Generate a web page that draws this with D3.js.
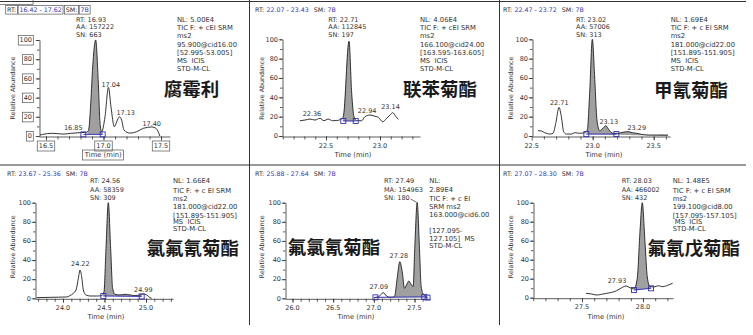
<!DOCTYPE html>
<html><head><meta charset="utf-8">
<script src="https://cdn.jsdelivr.net/npm/d3@7"></script>
<style>
body{margin:0;background:#fff;}
svg{display:block;}
text{font-family:"DejaVu Sans","Liberation Sans",sans-serif;fill:#333;white-space:pre;}
</style></head><body>
<svg id="c" width="753" height="335"></svg>
<script>
// ---------------- data ----------------
const compounds = ["腐霉利","联苯菊酯","甲氰菊酯","氯氟氰菊酯","氟氯氰菊酯","氟氰戊菊酯"];
const rtRanges = ["16.42 - 17.62","22.07 - 23.43","22.47 - 23.72","23.67 - 25.36","25.88 - 27.64","27.07 - 28.30"];
const smoothing = ["7B","7B","7B","7B","7B","7B"];
const peakRT = ["16.93","22.71","23.02","24.56","27.49","28.03"];
const areaType = ["AA","AA","AA","AA","MA","AA"];
const areaValue = ["157222","112845","57006","58359","154963","466002"];
const snValue = ["663","197","313","309","180","432"];
const filterText = [
  ["NL: 5.00E4","TIC F: + cEI SRM","ms2","95.900@cid16.00","[52.995-53.005]","MS  ICIS","STD-M-CL"],
  ["NL: 4.06E4","TIC F: + cEI SRM","ms2","166.100@cid24.00","[163.595-163.605]","MS  ICIS","STD-M-CL"],
  ["NL: 1.69E4","TIC F: + c EI SRM","ms2","181.000@cid22.00","[151.895-151.905]","MS  ICIS","STD-M-CL"],
  ["NL: 1.66E4","TIC F: + c EI SRM","ms2","181.000@cid22.00","[151.895-151.905]","MS  ICIS","STD-M-CL"],
  ["NL:","2.89E4","TIC F: + c EI","SRM ms2","163.000@cid6.00","","[127.095-","127.105]  MS","STD-M-CL"],
  ["NL: 1.48E5","TIC F: + c EI SRM","ms2","199.100@cid8.00","[157.095-157.105]"," MS  ICIS","STD-M-CL"]
];
const yTickValues = [0,20,40,60,80,100];
const xTickValues = [[16.5,17.0,17.5],[22.5,23.0],[22.5,23.0,23.5],[24.0,24.5,25.0],[26.0,26.5,27.0,27.5],[27.5,28.0]];

const p1Time = [16.448,16.47,16.56,16.65,16.72,16.80,16.85,16.87,16.89,16.906,16.932,16.955,16.97,16.984,17.013,17.043,17.065,17.094,17.115,17.138,17.158,17.178,17.23,17.289,17.346,17.419,17.46,17.49];
const p1Abund = [1,1.7,2.8,2,2.8,3.5,3.8,6,36,72,100,55,13,4.5,20,50.7,30.5,9.7,14.9,20,16.5,6.2,3,4.5,8,9.4,7.6,0];
const p2Time = [22.259,22.306,22.352,22.398,22.444,22.481,22.52,22.56,22.6,22.636,22.66,22.713,22.738,22.759,22.784,22.83,22.861,22.907,22.944,22.985,23.025,23.062,23.093,23.117,23.148,23.17];
const p2Abund = [15.8,16.5,17.5,16.5,18.3,15.8,17.5,15.8,16,17.2,20,98,44,20,15.8,15.8,20,21.7,20.7,19.3,14.8,18.3,21.7,24.1,20,17.2];
const p3Time = [22.552,22.58,22.607,22.648,22.675,22.697,22.724,22.743,22.762,22.784,22.825,22.852,22.893,22.934,22.956,22.975,22.997,23.016,23.035,23.057,23.084,23.107,23.134,23.166,23.207,23.248,23.289,23.325,23.358,23.399,23.456,23.522,23.617];
const p3Abund = [5.5,5.2,3.4,2,2.8,13,29.6,20,4.5,2,2,3.4,2.8,3.4,6.2,44,100,61,16.5,5.5,8,10.7,6.2,2.8,2.8,3.8,4.5,3.4,2.8,1.7,1,1,1];
const p4Time = [23.683,23.843,24.045,24.084,24.124,24.157,24.185,24.205,24.225,24.245,24.277,24.325,24.406,24.466,24.494,24.518,24.546,24.574,24.598,24.627,24.687,24.747,24.807,24.867,24.928,24.967,25.008,25.048,25.068];
const p4Abund = [0.7,1,1.4,2.8,5.2,8.7,20.9,29.6,22.6,8.7,3.5,2.4,2.4,2.8,6.9,52,100,52,10.5,4.2,3.5,4.2,3.5,2.8,3.5,4.5,3.5,0.7,0];
const p5Time = [27.0,27.061,27.115,27.156,27.205,27.254,27.287,27.319,27.349,27.377,27.402,27.43,27.459,27.483,27.503,27.533,27.561,27.582,27.614,27.656];
const p5Abund = [0.7,1.7,5.9,2.4,1,1.7,20.9,38.3,27.8,10.5,13.9,18.1,14.6,12.2,52,100,52,12.2,3.5,1];
const p6Time = [27.533,27.579,27.62,27.661,27.702,27.743,27.784,27.825,27.861,27.893,27.926,27.953,27.975,27.994,28.016,28.035,28.057,28.09,28.125,28.161,28.194,28.221,28.243];
const p6Abund = [4.6,3.9,2.8,3.6,4.6,5.6,7.4,10.5,12.3,10.5,9.2,20.4,69,100,59,22,11.6,11.3,12.6,11.6,12.6,14.1,15.2];

// peak labels: text, time, abundance (label baseline)
const peakLabelText = [["16.85","17.04","17.13","17.40"],["22.36","22.94","23.14"],["22.71","23.13","23.29"],["24.22","24.99"],["27.28","27.09"],["27.93"]];
const peakLabelTime = [[16.737,17.063,17.193,17.419],[22.37,22.881,23.097],[22.726,23.132,23.361],[24.209,24.968],[27.308,27.06],[27.787]];
const peakLabelAbund = [[6.2,51.4,21.9,10.4],[20.7,24.1,27.6],[32,12.1,6.2],[34.1,6.9],[41.8,9.7],[15.2]];

// integration markers (time, abundance) and shaded range
const markTime = [[16.825,16.993],[22.66,22.775],[22.948,23.194],[24.486,24.948],[27.02,27.62,27.66],[27.926,28.066]];
const markAbund = [[1.7,1.7],[15.5,15.5],[2,2],[2.4,2],[1,1.5,0.7],[8.1,9.9]];
const fillTime = [[16.86,16.993],[22.655,22.775],[22.95,23.62],[24.486,24.95],[27.25,27.61],[27.93,28.066]];
const fillBase = [[1.7,1.7],[15.5,15.5],[2,0],[2.4,2],[1,1],[8.1,9.9]];

const traceTime = [p1Time,p2Time,p3Time,p4Time,p5Time,p6Time];
const traceAbund = [p1Abund,p2Abund,p3Abund,p4Abund,p5Abund,p6Abund];

// ---------------- layout ----------------
const layouts = [
 {axisX:39, xEnd:170, y0:136, y100:40, cal:[16.5,46,17.5,161], boxed:true, hx:7, hy:12.3, annX:76, annY:[21.5,29,36.5],
  rX:177, rY:[21.7,30,38,46.5,54.7,62.8,71], cn:[191.5,88], time:[103.3,157], rel:[12,88], tickY:148},
 {axisX:282, xEnd:420, y0:136, y100:39.3, cal:[22.5,326,23.0,380], hx:255, hy:12.3, annX:328.3, annY:[21.5,29,36.5],
  rX:420, rY:[21.7,30,38,46.5,54.7,62.8,71], cn:[440,88.3], time:[353,157], rel:[261.7,88.3], tickY:147.5},
 {axisX:532, xEnd:670, y0:136, y100:39.3, cal:[22.5,531.7,23.5,653.7], hx:503, hy:12.3, annX:576, annY:[21.5,29,36.5],
  rX:670.7, rY:[21.7,30,38,46.5,54.7,62.8,71], cn:[691,88.5], time:[604,157], rel:[510,88], tickY:147.5},
 {axisX:35, xEnd:173, y0:298.3, y100:202.7, cal:[24.0,63,25.0,146], hx:7, hy:176, annX:90, annY:[183.3,191.7,200],
  rX:173, rY:[183.3,193.3,200.7,209,217.7,224.3,231.3], cn:[192.7,246.5], time:[106,319], rel:[12,246.7], tickY:310},
 {axisX:285, xEnd:430, y0:298.3, y100:202.7, cal:[26.0,292.5,27.5,414.5], hx:255, hy:176, annX:384, annY:[183.3,191.7,200],
  rX:429.3, rY:[183.3,191.7,200.7,209,216.7,225,233.3,241,248.3], cn:[334,245.5], time:[356,319], rel:[261.7,246.7], tickY:309.5, leader:true},
 {axisX:533, xEnd:673, y0:297.7, y100:202.7, cal:[27.5,582,28.0,643], hx:503, hy:176, annX:621.7, annY:[183.3,191.7,200],
  rX:672.7, rY:[183.3,193.3,200.7,209,217.7,224.3,231.3], cn:[693.7,246.5], time:[606,319], rel:[510,246.7], tickY:309}
];

const BLUE = "#3333b5", INK = "#2a2a2a";
const svg = d3.select("#c");

// frame lines
const frame = svg.append("g").attr("stroke","#333").attr("stroke-width",1);
frame.append("line").attr("x1",0).attr("x2",746).attr("y1",1.5).attr("y2",1.5);
frame.append("line").attr("x1",0).attr("x2",746).attr("y1",165).attr("y2",165);
frame.append("line").attr("x1",249.5).attr("x2",249.5).attr("y1",0).attr("y2",325);
frame.append("line").attr("x1",499.5).attr("x2",499.5).attr("y1",0).attr("y2",325);

function box(g, sel, pad){
  const b = sel.node().getBBox();
  g.insert("rect", () => sel.node()).attr("x",b.x-pad).attr("y",b.y-pad+0.5).attr("width",b.width+2*pad).attr("height",b.height+2*pad-1)
   .attr("fill","none").attr("stroke","#555").attr("stroke-width",0.7);
}

layouts.forEach((L,i) => {
  const g = svg.append("g");
  const xc = d3.scaleLinear().domain([L.cal[0],L.cal[2]]).range([L.cal[1],L.cal[3]]);
  const x = d3.scaleLinear().domain([xc.invert(L.axisX), xc.invert(L.xEnd)]).range([L.axisX, L.xEnd]);
  const y = d3.scaleLinear().domain([0,100]).range([L.y0, L.y100]);
  const [t0,t1] = x.domain();

  // header
  const hdr = [["RT:",INK],[rtRanges[i],BLUE],["SM:",INK],[smoothing[i],BLUE]];
  let hx = L.hx;
  hdr.forEach((h,k) => {
    const t = g.append("text").attr("x",hx).attr("y",L.hy).attr("font-size",6.3).style("fill",h[1]).text(h[0]);
    const w = t.node().getComputedTextLength();
    if (L.boxed) box(g,t,1.3);
    hx += w + (k===1 ? (L.boxed?4:5) : (L.boxed?3.2:2.2));
  });

  // peak annotation
  const ann = ["RT: "+peakRT[i], areaType[i]+": "+areaValue[i], "SN: "+snValue[i]];
  let lastAnn;
  ann.forEach((s,k) => { lastAnn = g.append("text").attr("x",L.annX).attr("y",L.annY[k]).attr("font-size",6.5).text(s); });

  // filter block
  filterText[i].forEach((s,k) => {
    if (s) g.append("text").attr("x",L.rX).attr("y",L.rY[k]).attr("font-size",6.8).text(s);
  });

  // axes
  const minor = d3.range(Math.ceil(t0*10-1e-6), Math.floor(t1*10+1e-6)+1).map(d=>d/10);
  const ax = g.append("g").attr("transform",`translate(0,${L.y0+0.5})`);
  ax.call(d3.axisBottom(x).tickValues(minor).tickSize(3).tickSizeOuter(0).tickFormat(""));
  ax.append("g").call(d3.axisBottom(x).tickValues(xTickValues[i]).tickSize(4).tickSizeOuter(0).tickFormat("")).select(".domain").remove();
  const ay = g.append("g").attr("transform",`translate(${L.axisX+0.5},0)`);
  ay.call(d3.axisLeft(y).tickValues(d3.range(0,101,10)).tickSize(2.5).tickSizeOuter(0).tickFormat(""));
  ay.append("g").call(d3.axisLeft(y).tickValues(yTickValues).tickSize(3.8).tickSizeOuter(0).tickFormat("")).select(".domain").remove();
  g.selectAll(".domain, .tick line").attr("stroke","#333").attr("stroke-width",0.8);

  xTickValues[i].forEach(v => {
    const t = g.append("text").attr("x",x(v)).attr("y",L.tickY).attr("text-anchor","middle").attr("font-size",6.5).text(d3.format(".1f")(v));
    if (L.boxed) box(g,t,1.5);
  });
  yTickValues.forEach(v => {
    const t = g.append("text").attr("x",L.axisX-(L.boxed?7:4)).attr("y",y(v)).attr("dy","0.35em").attr("text-anchor","end").attr("font-size",6.5).text(v);
    if (L.boxed) box(g,t,1.3);
  });
  const tt = g.append("text").attr("x",L.time[0]).attr("y",L.time[1]).attr("text-anchor","middle").attr("font-size",6.8).text("Time (min)");
  if (L.boxed) box(g,tt,1.5);
  const rl = g.append("text").attr("transform",`translate(${L.rel[0]},${L.rel[1]}) rotate(-90)`).attr("text-anchor","middle")
    .attr("dominant-baseline","central").attr("font-size",6.3).text("Relative Abundance");
  if (L.boxed) box(g,rl,1.5);

  // data
  const pts = traceTime[i].map((t,k)=>({t, v: traceAbund[i][k]}));
  const [fa,fb] = fillTime[i], [ba,bb] = fillBase[i];
  const base = t => ba + (bb-ba)*Math.max(0,Math.min(1,(t-fa)/(fb-fa)));
  const clipId = "clip"+i;
  g.append("clipPath").attr("id",clipId).append("rect").attr("x",x(fa)).attr("width",x(fb)-x(fa)).attr("y",0).attr("height",335);
  g.append("path").datum(pts).attr("clip-path",`url(#${clipId})`).attr("fill","#a0a0a0")
   .attr("d", d3.area().x(d=>x(d.t)).y0(d=>y(base(d.t))).y1(d=>y(d.v)).curve(d3.curveMonotoneX));
  g.append("path").datum(pts).attr("fill","none").attr("stroke","#1e1e1e").attr("stroke-width",0.9)
   .attr("d", d3.line().x(d=>x(d.t)).y(d=>y(d.v)).curve(d3.curveMonotoneX));

  // integration baseline and markers
  const mk = markTime[i].map((t,k)=>({t, v: markAbund[i][k]}));
  g.append("path").datum(mk).attr("fill","none").attr("stroke",BLUE).attr("stroke-width",1)
   .attr("d", d3.line().x(d=>x(d.t)).y(d=>y(d.v)));
  g.selectAll(null).data(mk).join("rect").attr("x",d=>x(d.t)-2.5).attr("y",d=>y(d.v)-2.5).attr("width",5).attr("height",5)
   .attr("fill","none").attr("stroke",BLUE).attr("stroke-width",0.9);

  // peak labels
  peakLabelText[i].forEach((s,k) => {
    g.append("text").attr("x",x(peakLabelTime[i][k])).attr("y",y(peakLabelAbund[i][k])).attr("text-anchor","middle").attr("font-size",6.5).text(s);
  });

  if (L.leader) {
    const w = lastAnn.node().getComputedTextLength();
    const apex = pts.reduce((a,b)=> b.v>a.v?b:a);
    g.append("line").attr("x1",L.annX+w+1).attr("y1",L.annY[2]-1).attr("x2",x(apex.t)).attr("y2",y(apex.v))
     .attr("stroke","#333").attr("stroke-width",0.7);
  }

  // compound name
  g.append("text").attr("x",L.cn[0]).attr("y",L.cn[1]).attr("text-anchor","middle").attr("dominant-baseline","central")
   .style("font-family",'"Noto Sans CJK SC",sans-serif').style("font-weight",700).attr("font-size",18.5).style("fill","#1a1a1a").text(compounds[i]);
});
</script>
</body></html>
